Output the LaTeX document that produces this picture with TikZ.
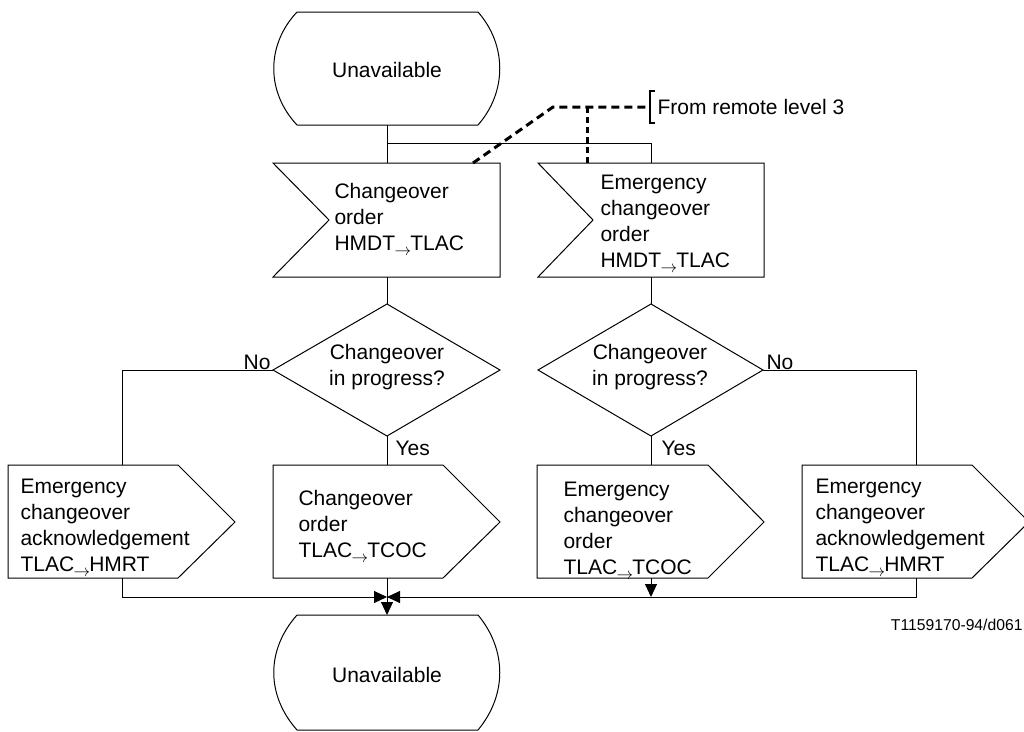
\documentclass[tikz,border=0pt]{standalone}
\usepackage{fontspec}
\setmainfont{Liberation Sans}
\usetikzlibrary{arrows.meta}
\newcommand{\sigarr}{\kern-0.5pt\raisebox{-0.45ex}{\scalebox{0.8}{$\rightarrow$}}\kern-1pt}
\begin{document}
\begin{tikzpicture}[x=1pt,y=-1pt,line width=1pt,
  lbl/.style={font=\fontsize{21}{26}\selectfont, inner sep=0pt},
  txt/.style={lbl, align=left, anchor=west},
  ctxt/.style={lbl, align=center},
  tip/.style={-{Triangle[length=13pt,width=12pt]}},
  dashln/.style={line width=3pt, dash pattern=on 8pt off 5pt},
  dotln/.style={line width=3pt, dash pattern=on 6pt off 4pt},
]
\clip (0,0) rectangle (1024,731);

% top terminal
\draw (297,12) -- (478,12) .. controls (507,45) and (507,92) .. (478,125) -- (297,125) .. controls (266,92) and (266,45) .. (297,12);
\node[ctxt] (u1) at (387,70) {Unavailable};
\coordinate (u1s) at (387,125);
\coordinate (j1) at (387,143);

% input signals
\draw (273,163) -- (500,163) -- (500,277) -- (273,277) -- (329,220) -- cycle;
\node[txt] (in1) at (334,219) {Changeover\\order\\HMDT\sigarr TLAC};
\coordinate (in1n) at (387,163);
\coordinate (in1s) at (387,277);
\coordinate (in1d) at (473,163);

\draw (538,163) -- (764,163) -- (764,277) -- (538,277) -- (593,220) -- cycle;
\node[txt] (in2) at (600,224) {Emergency\\changeover\\order\\HMDT\sigarr TLAC};
\coordinate (in2n) at (651,163);
\coordinate (in2s) at (651,277);
\coordinate (in2d) at (587,163);

\draw (u1s) -- (in1n);
\draw (j1) -| (in2n);

% remote level 3
\coordinate (d1) at (553,107);
\coordinate (d2) at (587,107);
\coordinate (rem) at (650,107);
\draw[dashln] (in1d) -- (d1) -- (rem);
\draw[dotln] (d2) -- (in2d);
\draw[line width=1.5pt] (655,91) -- (650,91) -- (650,123) -- (655,123);
\node[txt] (from) at (657,107) {From remote level 3};

% decisions
\draw (387,304) -- (500,370) -- (387,436) -- (273,370) -- cycle;
\node[ctxt] (q1) at (387,367) {Changeover\\in progress?};
\coordinate (q1n) at (387,304);
\coordinate (q1s) at (387,436);
\coordinate (q1w) at (273,370);

\draw (651,304) -- (763,370) -- (651,436) -- (538,370) -- cycle;
\node[ctxt] (q2) at (650,367) {Changeover\\in progress?};
\coordinate (q2n) at (651,304);
\coordinate (q2s) at (651,436);
\coordinate (q2e) at (763,370);

\draw (in1s) -- (q1n);
\draw (in2s) -- (q2n);

\node[lbl, anchor=base east] (no1) at (271,369) {No};
\node[lbl, anchor=base west] (no2) at (766,369) {No};
\node[lbl, anchor=west] (yes1) at (395,448) {Yes};
\node[lbl, anchor=west] (yes2) at (661,448) {Yes};

% output signals
\draw (8,465) -- (178,465) -- (235,522) -- (178,578) -- (8,578) -- cycle;
\node[txt] (oa) at (20,528) {Emergency\\changeover\\acknowledgement\\TLAC\sigarr HMRT};
\coordinate (oan) at (122,465);
\coordinate (oas) at (122,578);

\draw (273,465) -- (443,465) -- (500,522) -- (443,578) -- (273,578) -- cycle;
\node[txt] (ob) at (298,526) {Changeover\\order\\TLAC\sigarr TCOC};
\coordinate (obn) at (387,465);
\coordinate (obs) at (387,578);

\draw (537,465) -- (708,465) -- (764,522) -- (708,578) -- (537,578) -- cycle;
\node[txt] (oc) at (563,531) {Emergency\\changeover\\order\\TLAC\sigarr TCOC};
\coordinate (ocn) at (651,465);
\coordinate (ocs) at (651,578);

\draw (802,465) -- (972,465) -- (1029,522) -- (972,578) -- (802,578) -- cycle;
\node[txt] (od) at (815,528) {Emergency\\changeover\\acknowledgement\\TLAC\sigarr HMRT};
\coordinate (odn) at (916,465);
\coordinate (ods) at (916,578);

\draw (q1w) -| (oan);
\draw (q1s) -- (obn);
\draw (q2s) -- (ocn);
\draw (q2e) -| (odn);

% merge
\coordinate (m) at (387,597);
\coordinate (m2) at (651,597);
\coordinate (u2n) at (387,615);
\draw[tip] (oas) |- (m);
\draw[tip] (ods) |- (m);
\draw[tip] (obs) -- (u2n);
\draw[tip] (ocs) -- (m2);

% bottom terminal
\draw (297,615) -- (478,615) .. controls (507,650) and (507,695) .. (478,730) -- (297,730) .. controls (266,695) and (266,650) .. (297,615);
\node[ctxt] (u2) at (387,675) {Unavailable};

\node[lbl, font=\fontsize{15.7}{19}\selectfont, anchor=east] (ref) at (1023,625) {T1159170-94/d061};
\end{tikzpicture}
\end{document}
